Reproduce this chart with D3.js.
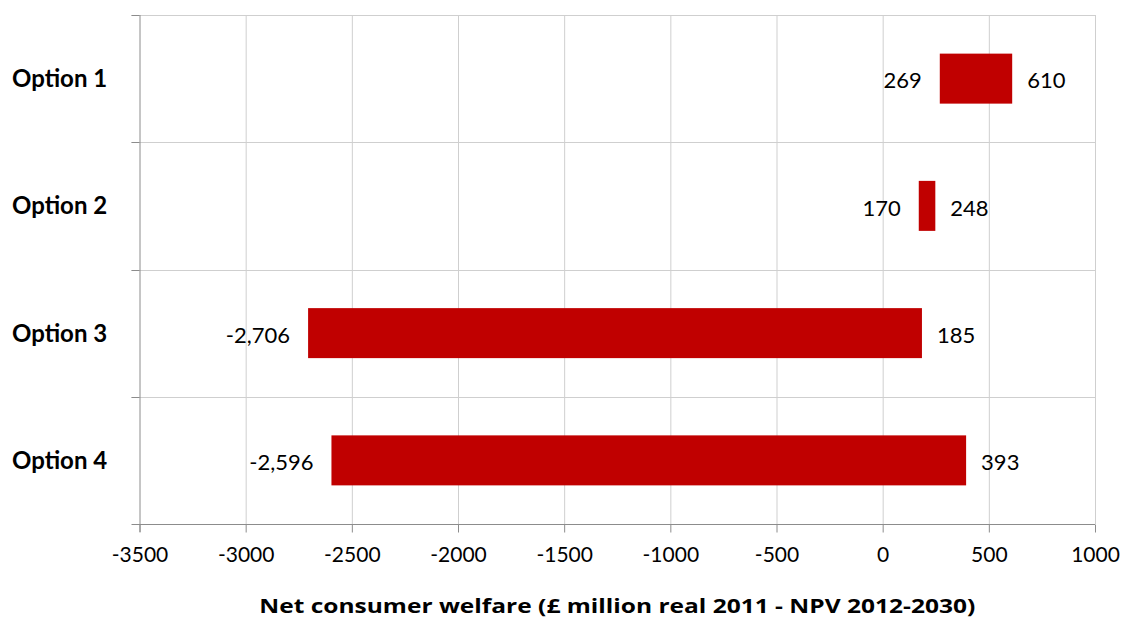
<!DOCTYPE html>
<html>
<head>
<meta charset="utf-8">
<script src="https://cdn.jsdelivr.net/npm/d3@7"></script>
<style>
  html, body { margin: 0; padding: 0; background: #fff; }
  svg text { font-family: Lato, "Open Sans", sans-serif; fill: #000; }
</style>
</head>
<body>
<svg id="chart" width="1125" height="619"></svg>
<script>
// Options and their net consumer welfare range (low / high), £ million
const categories = ["Option 1", "Option 2", "Option 3", "Option 4"];
const lowValues  = [269, 170, -2706, -2596];
const highValues = [610, 248, 185, 393];
const xTicks = [-3500, -3000, -2500, -2000, -1500, -1000, -500, 0, 500, 1000];
const xTitle = "Net consumer welfare (£ million real 2011 - NPV 2012-2030)";

const rows = categories.map((c, i) => ({ name: c, low: lowValues[i], high: highValues[i] }));

const svg = d3.select("#chart");
const margin = { left: 139.5, right: 30, top: 15, bottom: 95 };
const W = 1125, H = 619;
const plotR = W - margin.right, plotB = H - margin.bottom;

const x = d3.scaleLinear().domain([-3500, 1000]).range([margin.left, plotR]);
const y = d3.scaleBand().domain(categories).range([margin.top, plotB]).paddingInner(0).paddingOuter(0);
const barH = 50;

const gridColor = "#cfcfcf", axisColor = "#8c8c8c";
// plain hyphen for negatives
const hy = s => s.replace(/\u2212/g, "-");

// vertical gridlines
svg.append("g").selectAll("line").data(xTicks.slice(1)).join("line")
  .attr("x1", d => x(d) + 0.5).attr("x2", d => x(d) + 0.5)
  .attr("y1", margin.top).attr("y2", plotB)
  .attr("stroke", gridColor).attr("stroke-width", 1);

// horizontal band separators (with small ticks left of the axis)
const bounds = categories.map(c => y(c));
svg.append("g").selectAll("line").data(bounds).join("line")
  .attr("x1", margin.left - 8).attr("x2", plotR)
  .attr("y1", d => Math.round(d) + 0.5).attr("y2", d => Math.round(d) + 0.5)
  .attr("stroke", gridColor).attr("stroke-width", 1);
svg.append("g").selectAll("line").data(bounds).join("line")
  .attr("x1", margin.left - 8).attr("x2", margin.left)
  .attr("y1", d => Math.round(d) + 0.5).attr("y2", d => Math.round(d) + 0.5)
  .attr("stroke", axisColor);

// bottom axis
const xAxis = d3.axisBottom(x).tickValues(xTicks).tickSize(8).tickPadding(15)
  .tickFormat(d => hy(d3.format("d")(d)));
const gx = svg.append("g").attr("transform", `translate(0,${Math.round(plotB) + 0.5})`).call(xAxis);
gx.select(".domain").remove();
gx.append("line").attr("x1", margin.left - 8).attr("x2", plotR).attr("stroke", axisColor);
gx.selectAll(".tick line").attr("stroke", axisColor);
gx.selectAll(".tick text").attr("font-size", 21).attr("fill", "#000");

// left axis line
svg.append("line")
  .attr("x1", margin.left + 0.5).attr("x2", margin.left + 0.5)
  .attr("y1", margin.top).attr("y2", plotB + 8)
  .attr("stroke", axisColor);

// category labels
svg.append("g").selectAll("text").data(categories).join("text")
  .attr("x", 12).attr("y", d => y(d) + y.bandwidth() / 2)
  .attr("dy", "0.35em").attr("font-size", 24).attr("font-weight", "bold")
  .text(d => d);

// bars
svg.append("g").selectAll("rect").data(rows).join("rect")
  .attr("x", d => x(d.low)).attr("width", d => x(d.high) - x(d.low))
  .attr("y", d => y(d.name) + y.bandwidth() / 2 - barH / 2).attr("height", barH)
  .attr("fill", "#C00000");

const fmt = v => hy(d3.format(",")(v));
// low value labels
svg.append("g").selectAll("text").data(rows).join("text")
  .attr("x", d => x(d.low) - 18).attr("y", d => y(d.name) + y.bandwidth() / 2 + 2)
  .attr("dy", "0.35em").attr("text-anchor", "end").attr("font-size", 22)
  .text(d => fmt(d.low));
// high value labels
svg.append("g").selectAll("text").data(rows).join("text")
  .attr("x", d => x(d.high) + 15).attr("y", d => y(d.name) + y.bandwidth() / 2 + 2)
  .attr("dy", "0.35em").attr("text-anchor", "start").attr("font-size", 22)
  .text(d => fmt(d.high));

// axis title
svg.append("text")
  .attr("x", (margin.left + plotR) / 2).attr("y", 613)
  .attr("text-anchor", "middle").attr("font-size", 20).attr("font-weight", "bold")
  .style("font-family", "'Open Sans', Lato, sans-serif")
  .attr("textLength", 716).attr("lengthAdjust", "spacingAndGlyphs")
  .text(xTitle);
</script>
</body>
</html>
